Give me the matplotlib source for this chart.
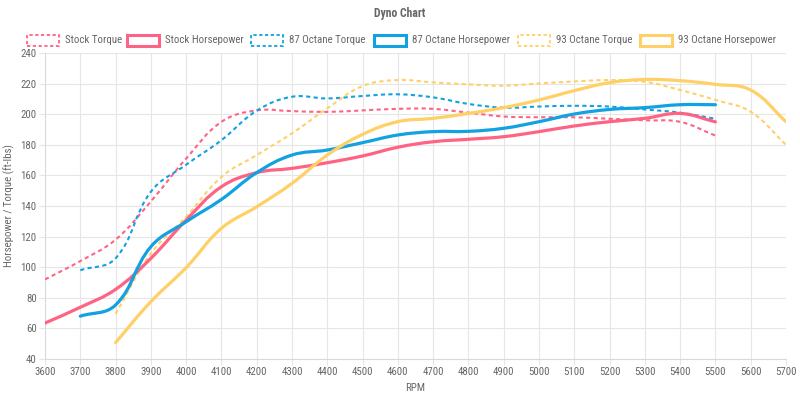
import numpy as np
import matplotlib
matplotlib.use("Agg")
import matplotlib.pyplot as plt
from matplotlib.path import Path
from matplotlib.patches import PathPatch, Rectangle

plt.rcParams['font.family'] = ['Roboto Condensed', 'Roboto', 'DejaVu Sans']

rpm = list(range(3600, 5800, 100))

# values, None where a series has no point
stock_torque = [92, 104, 118, 143, 171, 195, 202.5, 202, 201.5, 202.5, 203.5, 203.5,
                201, 198.5, 198, 198, 197, 196, 195, 186, None, None]
stock_hp = [63.5, 73.8, 85.5, 105.8, 130.8, 152.6, 161.8, 164.6, 168.3, 172.7, 178.4, 182,
            183.6, 185.3, 188.6, 192.3, 195.1, 197.3, 200.5, 195, None, None]
oct87_torque = [None, 98, 105.8, 149.3, 167, 183, 202.3, 211.4, 210.3, 211.9, 213, 211,
                206.7, 204.3, 205, 205.5, 205, 203.1, 201, 197, None, None]
oct87_hp = [None, 68, 75.3, 113.4, 129.7, 144.3, 161.8, 173.3, 176.6, 181.4, 186.4, 188.6,
            188.8, 190.8, 195.1, 200.1, 203.1, 204.3, 206.2, 206.2, None, None]
oct93_torque = [None, None, 69.4, 109, 133, 159, 173.3, 187.5, 203.8, 218.4, 222.3, 220.8,
                219.5, 218.6, 220.1, 221.4, 222.3, 221.2, 215.8, 209.3, 201.6, 180]
oct93_hp = [None, None, 50.7, 77.5, 99.7, 125.4, 139.5, 154.8, 173.3, 186.8, 195.1, 197.3,
            200.5, 204.3, 209.3, 215.4, 220.6, 222.7, 221.9, 219.5, 215.8, 195.1]

labels = ['Stock Torque', 'Stock Horsepower', '87 Octane Torque',
          '87 Octane Horsepower', '93 Octane Torque', '93 Octane Horsepower']
series = [stock_torque, stock_hp, oct87_torque, oct87_hp, oct93_torque, oct93_hp]
colors = ['#ff6384', '#ff6384', '#12a1e1', '#12a1e1', '#ffd066', '#ffd066']
dashed = [True, False, True, False, True, False]

x_min, x_max, y_min, y_max = 3600, 5700, 40, 240
W, H = 800, 400
fs = 7.8

fig = plt.figure(figsize=(8, 4), dpi=100)
ax = fig.add_axes([45 / W, 41 / H, 741 / W, 306 / H])
ax.set_xlim(x_min, x_max)
ax.set_ylim(y_min, y_max)

# pixel scale used for the bezier smoothing (like Chart.js tension 0.4)
sx = 741 / (x_max - x_min)
sy = 306 / (y_max - y_min)


def smooth_path(xs, ys, tension=0.4):
    pts = np.array([[x * sx, y * sy] for x, y in zip(xs, ys)])
    n = len(pts)
    cps = []
    for i in range(n):
        p0 = pts[i - 1] if i > 0 else pts[i]
        p1 = pts[i]
        p2 = pts[i + 1] if i < n - 1 else pts[i]
        d01 = np.hypot(*(p1 - p0))
        d12 = np.hypot(*(p2 - p1))
        tot = d01 + d12
        s01 = d01 / tot if tot else 0
        s12 = d12 / tot if tot else 0
        prev_cp = p1 - tension * s01 * (p2 - p0)
        next_cp = p1 + tension * s12 * (p2 - p0)
        cps.append((prev_cp, next_cp))
    verts = [pts[0]]
    codes = [Path.MOVETO]
    for i in range(1, n):
        verts += [cps[i - 1][1], cps[i][0], pts[i]]
        codes += [Path.CURVE4] * 3
    verts = np.array(verts) / [sx, sy]
    return Path(verts, codes)


for vals, col, dsh in zip(series, colors, dashed):
    xs = [r for r, v in zip(rpm, vals) if v is not None]
    ys = [v for v in vals if v is not None]
    path = smooth_path(xs, ys)
    if dsh:
        patch = PathPatch(path, facecolor='none', edgecolor=col, lw=1.5,
                          linestyle=(0, (2, 1.6)), capstyle='butt', zorder=3)
    else:
        patch = PathPatch(path, facecolor='none', edgecolor=col, lw=2.3,
                          capstyle='round', joinstyle='round', zorder=4)
    ax.add_patch(patch)

ax.set_xticks(rpm)
ax.set_yticks(range(40, 241, 20))
ax.grid(True, color='#e6e6e6', lw=0.8)
ax.set_axisbelow(True)
for s in ['top', 'right']:
    ax.spines[s].set_visible(False)
for s in ['left', 'bottom']:
    ax.spines[s].set_color('#d9d9d9')
ax.tick_params(axis='both', colors='#e6e6e6', labelcolor='#666666', labelsize=fs,
               length=4, width=0.8, pad=2)
ax.set_xlabel('RPM', color='#666666', fontsize=fs, labelpad=4)
ax.set_ylabel('Horsepower / Torque (ft-lbs)', color='#666666', fontsize=fs, labelpad=4)

fig.text(0.5, 1 - 14 / H, 'Dyno Chart', ha='center', va='center',
         fontsize=8.5, fontweight='bold', color='#666666')

# legend drawn by hand, boxes like Chart.js
box_x = [27, 127, 251, 374, 518, 640]
box_w, box_h, leg_y = 32, 11, 40
for bx, lab, col, dsh in zip(box_x, labels, colors, dashed):
    rect = Rectangle((bx / W, 1 - (leg_y + box_h / 2) / H), box_w / W, box_h / H,
                     transform=fig.transFigure, facecolor='white', edgecolor=col,
                     lw=1.3 if dsh else 2.2,
                     linestyle=(0, (1.8, 1.4)) if dsh else '-')
    fig.add_artist(rect)
    fig.text((bx + box_w + 6) / W, 1 - leg_y / H, lab, ha='left', va='center',
             fontsize=fs, color='#666666')

fig.savefig('out.png', dpi=100)
